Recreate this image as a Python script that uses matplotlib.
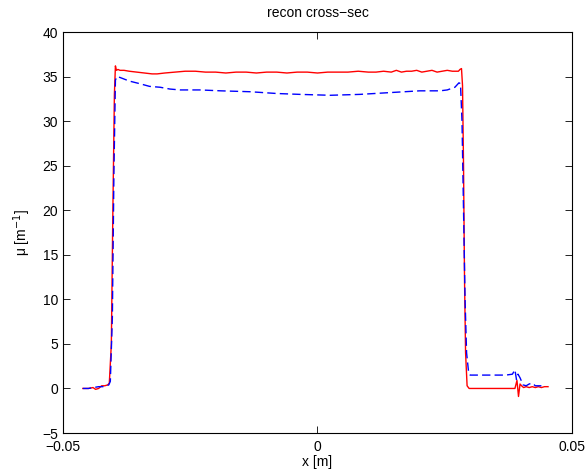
import numpy as np
import matplotlib
matplotlib.use("Agg")
import matplotlib.pyplot as plt

plt.rcParams['font.family'] = ['Liberation Sans', 'DejaVu Sans']

# Red solid profile (x in m, mu in 1/m)
x_red = [-0.0461, -0.0450, -0.0441, -0.0436, -0.0430, -0.0424, -0.0418, -0.0412, -0.0409,
         -0.0405, -0.0402, -0.0399, -0.0397, -0.0395, -0.0392, -0.0388, -0.0380, -0.0370,
         -0.0355, -0.0340, -0.0325, -0.0315, -0.0300, -0.0280, -0.0260, -0.0254, -0.0240,
         -0.0220, -0.0200, -0.0180, -0.0160, -0.0140, -0.0120, -0.0100, -0.0080, -0.0060,
         -0.0040, -0.0020, 0.0000, 0.0020, 0.0040, 0.0060, 0.0080, 0.0100, 0.0115, 0.0130,
         0.0145, 0.0155, 0.0165, 0.0175, 0.0185, 0.0195, 0.0205, 0.0215, 0.0225, 0.0235,
         0.0245, 0.0255, 0.0265, 0.0272, 0.0277, 0.0280, 0.0283, 0.0285, 0.0287, 0.0289,
         0.0291, 0.0294, 0.0298, 0.0310, 0.0340, 0.0370, 0.0388, 0.0392, 0.0395, 0.0398,
         0.0401, 0.0405, 0.0410, 0.0416, 0.0422, 0.0428, 0.0434, 0.0440, 0.0446, 0.0453]
y_red = [0.0, 0.0, 0.1, -0.1, 0.0, 0.3, 0.3, 0.4, 0.6,
         5.0, 20.0, 33.0, 36.2, 35.7, 35.8, 35.7, 35.7, 35.6,
         35.5, 35.4, 35.3, 35.3, 35.4, 35.5, 35.6, 35.6, 35.6,
         35.5, 35.5, 35.4, 35.5, 35.5, 35.4, 35.5, 35.5, 35.4,
         35.5, 35.5, 35.4, 35.5, 35.5, 35.5, 35.6, 35.5, 35.5, 35.6,
         35.5, 35.7, 35.5, 35.6, 35.6, 35.7, 35.5, 35.6, 35.7, 35.5,
         35.6, 35.7, 35.6, 35.6, 35.6, 35.8, 35.9, 34.0, 25.0, 12.0,
         4.0, 0.3, 0.0, 0.0, 0.0, 0.0, 0.0, 0.9, -0.9, 0.5,
         0.3, 0.1, 0.2, 0.1, 0.2, 0.1, 0.2, 0.1, 0.2, 0.2]

# Blue dashed profile
x_blue = [-0.0461, -0.0450, -0.0440, -0.0430, -0.0422, -0.0415, -0.0410, -0.0407,
          -0.0403, -0.0400, -0.0397, -0.0394, -0.0388, -0.0370, -0.0349, -0.0330, -0.0309,
          -0.0290, -0.0270, -0.0231, -0.0190, -0.0133, -0.0080, -0.0034, 0.0025, 0.0083,
          0.0142, 0.0201, 0.0241, 0.0255, 0.0270, 0.0278, 0.0281, 0.0284, 0.0287,
          0.0290, 0.0293, 0.0297, 0.0300, 0.0340, 0.0370, 0.0383, 0.0388, 0.0391,
          0.0394, 0.0398, 0.0404, 0.0410, 0.0416, 0.0422, 0.0428, 0.0434, 0.0440]
y_blue = [0.0, 0.0, 0.1, 0.2, 0.2, 0.3, 0.4, 0.8,
          8.0, 24.0, 34.6, 35.0, 34.9, 34.5, 34.2, 33.9, 33.8,
          33.6, 33.5, 33.5, 33.4, 33.3, 33.1, 33.0, 32.9, 33.0,
          33.2, 33.4, 33.4, 33.5, 33.8, 34.3, 34.2, 30.0, 20.0,
          10.0, 4.0, 1.8, 1.5, 1.5, 1.5, 1.6, 2.1, 1.0,
          1.6, 1.2, 0.4, 0.3, 0.5, 0.6, 0.3, 0.3, 0.3]

fig = plt.figure(figsize=(5.86, 4.75), dpi=100)
ax = fig.add_axes([0.1075, 0.0884, 0.8685, 0.8442])

ax.plot(x_red, y_red, color='#ff0000', linewidth=1.0)
ax.plot(x_blue, y_blue, color='#0000ff', linewidth=1.0, dashes=(6, 3))

ax.set_xlim(-0.05, 0.05)
ax.set_ylim(-5, 40)
ax.set_xticks([-0.05, 0, 0.05])
ax.set_xticklabels(['\u22120.05', '0', '0.05'])
ax.set_yticks(np.arange(-5, 41, 5))
ax.tick_params(direction='in', top=True, right=True, length=5, width=0.6, labelsize=10)
ax.tick_params(axis='x', pad=5)
for s in ax.spines.values():
    s.set_linewidth(0.8)

ax.set_title('recon cross\u2212sec', fontsize=10, pad=11)
ax.set_xlabel('x [m]', fontsize=10, labelpad=1)
ax.set_ylabel('\u03bc [m$^{\u22121}$]', fontsize=10, labelpad=7)

fig.savefig('out.png', dpi=100)
